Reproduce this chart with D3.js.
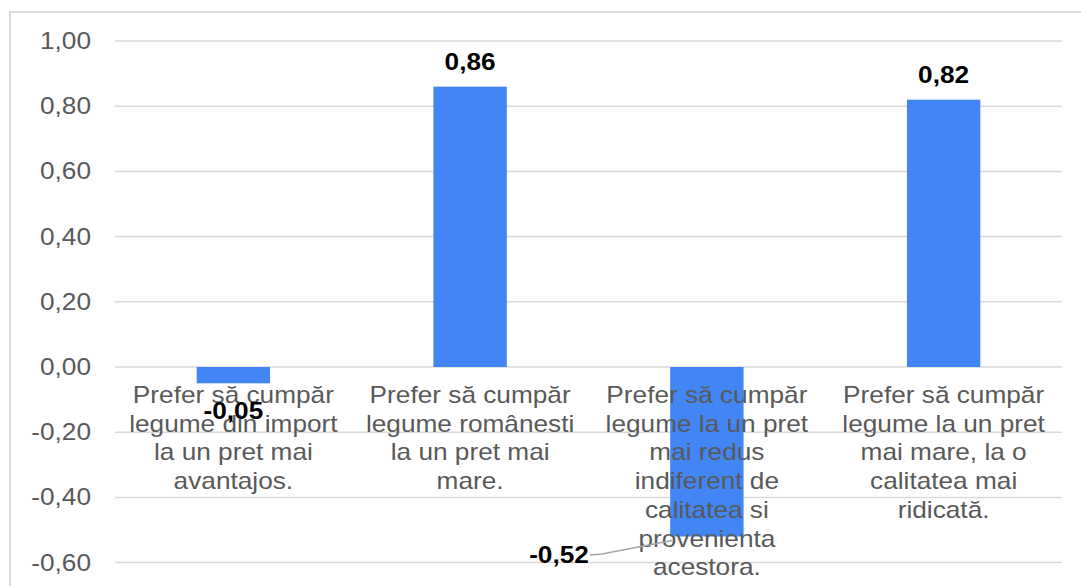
<!DOCTYPE html>
<meta charset="utf-8">
<title>Preferinte legume</title>
<style>
  body { margin: 0; background: #fff; }
  text { font-family: "Liberation Sans", Arial, sans-serif; }
</style>
<div id="viz"></div>
<script src="https://cdnjs.cloudflare.com/ajax/libs/d3/7.8.5/d3.min.js"></script>
<script>

var width = 1081;
var height = 586;

// data
var categories = [
  ["Prefer să cumpăr", "legume din import", "la un pret mai", "avantajos."],
  ["Prefer să cumpăr", "legume românesti", "la un pret mai", "mare."],
  ["Prefer să cumpăr", "legume la un pret", "mai redus", "indiferent de", "calitatea si", "provenienta", "acestora."],
  ["Prefer să cumpăr", "legume la un pret", "mai mare, la o", "calitatea mai", "ridicată."]
];
var values = [-0.05, 0.86, -0.52, 0.82];
var ticks = [1.0, 0.8, 0.6, 0.4, 0.2, 0.0, -0.2, -0.4, -0.6];

var stretch = 1.14;  // text in the picture is a bit wide
var fmt = function(v) {
  return d3.format(".2f")(v).replace(".", ",").replace("\u2212", "-");
};

var svg = d3.select("#viz")
  .append("svg")
  .attr("width", width)
  .attr("height", height);

// outer frame (only top and left visible)
svg.append("path")
  .attr("d", "M10," + height + "V12H" + width)
  .attr("fill", "none")
  .attr("stroke", "#d9d9d9")
  .attr("stroke-width", 2);

var x = d3.scaleBand()
  .domain(d3.range(categories.length))
  .range([115, 1062])
  .paddingInner(0.69)
  .paddingOuter(0.345);

var y = d3.scaleLinear()
  .domain([-0.6, 1.0])
  .range([562.6, 41]);

// gridlines
svg.append("g")
  .selectAll("line")
  .data(ticks)
  .join("line")
  .attr("x1", 115)
  .attr("x2", 1062)
  .attr("y1", function(d) { return y(d); })
  .attr("y2", function(d) { return y(d); })
  .attr("stroke", "#d9d9d9")
  .attr("stroke-width", 1.5);

// y tick labels
svg.append("g")
  .selectAll("text")
  .data(ticks)
  .join("text")
  .attr("transform", function(d) { return "translate(91," + (y(d) + 8) + ") scale(" + stretch + ",1)"; })
  .attr("text-anchor", "end")
  .attr("font-size", 23)
  .attr("fill", "#595959")
  .text(fmt);

// bars
svg.append("g")
  .selectAll("rect")
  .data(values)
  .join("rect")
  .attr("x", function(d, i) { return x(i); })
  .attr("width", x.bandwidth())
  .attr("y", function(d) { return y(Math.max(0, d)); })
  .attr("height", function(d) { return Math.abs(y(d) - y(0)); })
  .attr("fill", "#4285f4");

// category labels
var cat = svg.append("g")
  .selectAll("g")
  .data(categories)
  .join("g");

cat.selectAll("text")
  .data(function(d, i) { return d.map(function(t, j) { return { t: t, i: i, j: j }; }); })
  .join("text")
  .attr("transform", function(d) {
    return "translate(" + (x(d.i) + x.bandwidth() / 2) + "," + (403 + d.j * 28.7) + ") scale(" + stretch + ",1)";
  })
  .attr("text-anchor", "middle")
  .attr("font-size", 23)
  .attr("fill", "#595959")
  .text(function(d) { return d.t; });

// leader line for -0,52
var i3 = 2;
svg.append("polyline")
  .attr("points", [[590, 555], [602, 554], [x(i3) + 2, y(values[i3]) + 4]].join(" "))
  .attr("fill", "none")
  .attr("stroke", "#a6a6a6")
  .attr("stroke-width", 1.5);

// value labels
var labelPos = function(d, i) {
  var cx = x(i) + x.bandwidth() / 2;
  if (i === 2) return [559, 563];
  if (d < 0) return [cx, y(d) + 36];
  return [cx, y(d) - 17];
};

svg.append("g")
  .selectAll("text")
  .data(values)
  .join("text")
  .attr("transform", function(d, i) {
    var p = labelPos(d, i);
    return "translate(" + p[0] + "," + p[1] + ") scale(" + stretch + ",1)";
  })
  .attr("text-anchor", "middle")
  .attr("font-size", 23)
  .attr("font-weight", "bold")
  .attr("fill", "#000")
  .text(fmt);

</script>
